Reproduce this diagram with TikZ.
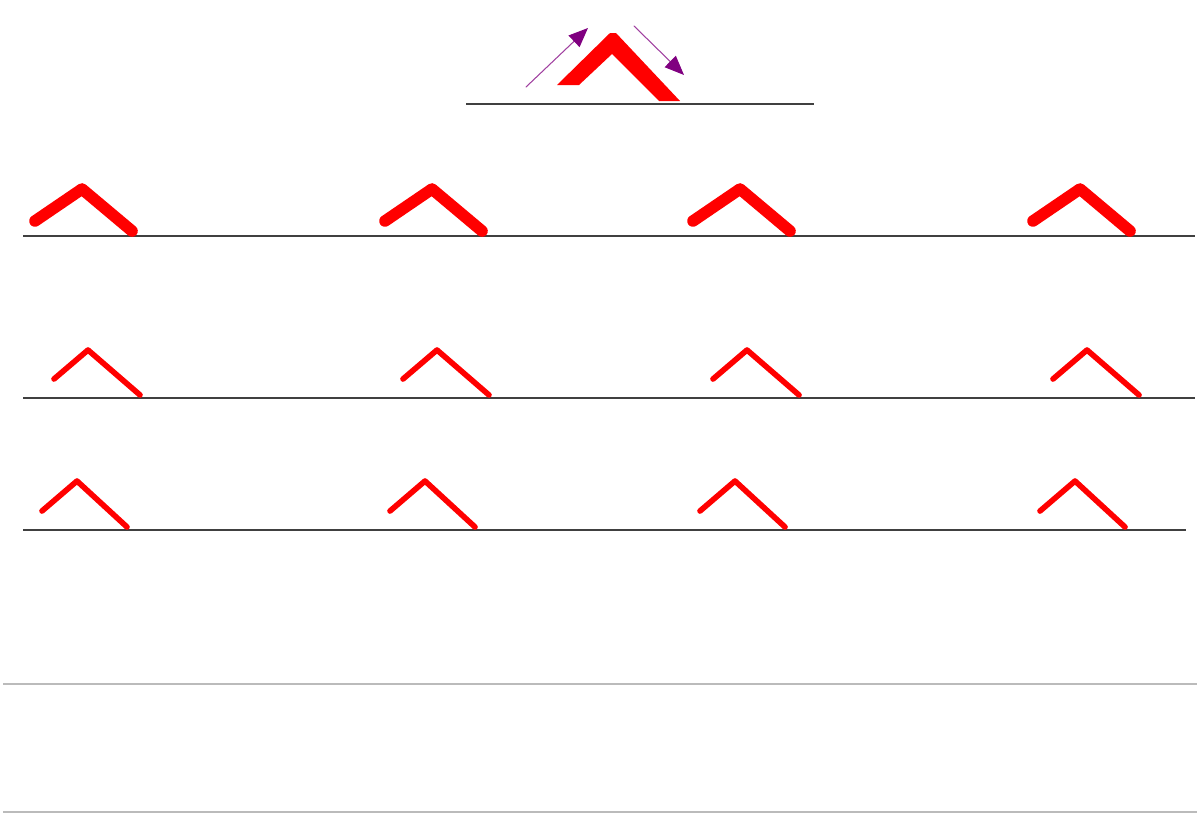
\documentclass[tikz,border=0pt]{standalone}
\usetikzlibrary{arrows.meta}
\definecolor{roofred}{RGB}{255,0,0}
\definecolor{groundgray}{RGB}{64,64,64}
\definecolor{rulegray}{RGB}{187,187,187}
\definecolor{windpurple}{RGB}{128,0,128}
\begin{document}
\begin{tikzpicture}[x=0.02cm, y=-0.02cm, line join=round, line cap=round]
        \tikzset{ground/.style={draw=groundgray, line width=1.2pt, line cap=butt},
                 rule/.style={draw=rulegray, line width=1.2pt, line cap=butt},
                 roofthick/.style={draw=roofred, line width=6.6pt},
                 roofthin/.style={draw=roofred, line width=3.2pt},
                 wind/.style={draw=windpurple!75, line width=0.6pt,
                              -{Triangle[length=11pt, width=9pt, color=windpurple, fill=windpurple]}}}
        \useasboundingbox (0,0) rectangle (1200,816);

        % top model with wind arrows
        \draw[ground] (466,104) -- (814,104);
        \fill[roofred] (557,85) -- (610,33) -- (616,33) -- (680,101) -- (659,101)
            -- (612,54) -- (579,85) -- cycle;
        \draw[wind] (526,87) -- (588,28);
        \draw[wind] (634,26) -- (684,75);

        % row 1
        \draw[ground] (23,236) -- (1195,236);
        \foreach \ax in {82,432,740,1080}
            \draw[roofthick] (\ax-47,221) -- (\ax,189) -- (\ax+50,231);

        % row 2
        \draw[ground] (23,398) -- (1195,398);
        \foreach \ax in {88,437,747,1087}
            \draw[roofthin] (\ax-34,379) -- (\ax,350) -- (\ax+52,395);

        % row 3
        \draw[ground] (23,530) -- (1186,530);
        \foreach \ax in {77,425,735,1075}
            \draw[roofthin] (\ax-35,511) -- (\ax,481) -- (\ax+50,527);

        % bottom rules
        \draw[rule] (3,684) -- (1197,684);
        \draw[rule] (3,812) -- (1197,812);
    \end{tikzpicture}
\end{document}
